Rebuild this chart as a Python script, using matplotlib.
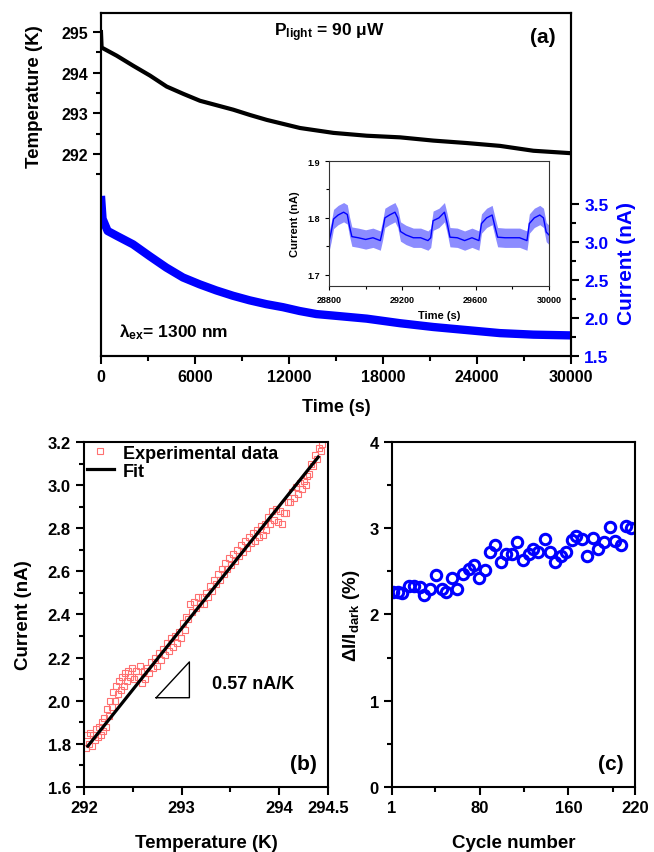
import numpy as np
import matplotlib
matplotlib.use("Agg")
import matplotlib.pyplot as plt
from matplotlib.ticker import MultipleLocator, FixedLocator, FormatStrFormatter

plt.rcParams['font.family'] = ['Liberation Sans', 'DejaVu Sans']
plt.rcParams['font.weight'] = 'bold'
plt.rcParams['axes.labelweight'] = 'bold'
plt.rcParams['mathtext.default'] = 'regular'
plt.rcParams['axes.linewidth'] = 1.5

# ---- panel (a): temperature and current vs time ----
time_temp = [0, 40, 1000, 2064, 3128, 4191, 5255, 6319, 7383, 8447, 9511,
             10574, 11638, 12702, 13766, 14830, 16957, 19085, 21213, 23340,
             25468, 27596, 30000]
temp_a = [295.0, 294.62, 294.42, 294.17, 293.93, 293.66, 293.48, 293.31,
          293.20, 293.09, 292.96, 292.84, 292.74, 292.64, 292.58, 292.52,
          292.45, 292.41, 292.33, 292.27, 292.20, 292.08, 292.02]

time_curr = [0, 100, 426, 1064, 2043, 3106, 4170, 5234, 6298, 7362, 8425,
             9489, 10553, 11617, 12681, 13745, 14830, 16957, 19085, 21213,
             23340, 25468, 27596, 30000]
curr_a = [3.60, 3.30, 3.14, 3.07, 2.965, 2.81, 2.66, 2.53, 2.44, 2.36, 2.29,
          2.23, 2.18, 2.14, 2.09, 2.05, 2.03, 1.99, 1.93, 1.88, 1.84, 1.80,
          1.78, 1.77]

# inset: last few on/off cycles
inset_time = [28800, 28812, 28825, 28850, 28880, 28900, 28912, 28925, 28960,
              29000, 29040, 29080, 29092, 29105, 29130, 29160, 29175, 29190,
              29220, 29260, 29300, 29340, 29355, 29368, 29400, 29430, 29445,
              29460, 29500, 29540, 29580, 29618, 29632, 29660, 29690, 29705,
              29720, 29760, 29800, 29840, 29880, 29893, 29920, 29950, 29970,
              29985, 30000]
inset_curr = [1.758, 1.775, 1.798, 1.805, 1.81, 1.806, 1.785, 1.767, 1.765,
              1.762, 1.765, 1.760, 1.777, 1.80, 1.805, 1.81, 1.80, 1.776,
              1.77, 1.765, 1.765, 1.760, 1.765, 1.795, 1.80, 1.81, 1.79,
              1.766, 1.765, 1.760, 1.765, 1.760, 1.79, 1.80, 1.805, 1.785,
              1.766, 1.765, 1.765, 1.765, 1.760, 1.79, 1.80, 1.805, 1.80,
              1.775, 1.77]

# ---- panel (b): current vs temperature ----
temp_exp = [
    292.02, 292.03, 292.05, 292.06, 292.08, 292.09, 292.11, 292.12, 292.14, 292.15,
    292.17, 292.18, 292.20, 292.21, 292.23, 292.24, 292.26, 292.27, 292.29, 292.30,
    292.32, 292.33, 292.35, 292.36, 292.38, 292.39, 292.41, 292.42, 292.44, 292.45,
    292.47, 292.49, 292.51, 292.53, 292.55, 292.57, 292.59, 292.61, 292.63, 292.65,
    292.67, 292.69, 292.71, 292.73, 292.75, 292.77, 292.79, 292.81, 292.83, 292.85,
    292.87, 292.89, 292.91, 292.93, 292.95, 292.97, 292.99, 293.01, 293.03, 293.05,
    293.07, 293.09, 293.11, 293.13, 293.15, 293.17, 293.19, 293.21, 293.23, 293.25,
    293.27, 293.29, 293.31, 293.33, 293.35, 293.37, 293.39, 293.41, 293.43, 293.45,
    293.47, 293.49, 293.51, 293.53, 293.55, 293.57, 293.59, 293.61, 293.63, 293.65,
    293.67, 293.69, 293.71, 293.73, 293.75, 293.77, 293.79, 293.81, 293.83, 293.85,
    293.87, 293.89, 293.91, 293.93, 293.95, 293.97, 293.99, 294.01, 294.03, 294.05,
    294.07, 294.09, 294.11, 294.13, 294.15, 294.17, 294.19, 294.21, 294.23, 294.25,
    294.27, 294.29, 294.31, 294.33, 294.35, 294.37, 294.39, 294.41, 294.43, 294.44]
curr_exp = [
    1.78, 1.84, 1.80, 1.85, 1.79, 1.84, 1.82, 1.87, 1.83, 1.88,
    1.84, 1.90, 1.86, 1.92, 1.88, 1.96, 1.93, 2.00, 1.97, 2.04,
    2.00, 2.07, 2.03, 2.09, 2.05, 2.11, 2.07, 2.13, 2.09, 2.14,
    2.11, 2.15, 2.10, 2.14, 2.11, 2.16, 2.08, 2.14, 2.10, 2.15,
    2.13, 2.18, 2.15, 2.20, 2.16, 2.22, 2.19, 2.24, 2.21, 2.27,
    2.23, 2.29, 2.25, 2.30, 2.27, 2.32, 2.29, 2.36, 2.33, 2.39,
    2.38, 2.45, 2.41, 2.46, 2.43, 2.48, 2.45, 2.48, 2.45, 2.50,
    2.48, 2.53, 2.51, 2.56, 2.54, 2.59, 2.56, 2.61, 2.59, 2.64,
    2.61, 2.66, 2.63, 2.68, 2.65, 2.70, 2.67, 2.72, 2.69, 2.74,
    2.71, 2.76, 2.73, 2.78, 2.74, 2.79, 2.76, 2.81, 2.77, 2.82,
    2.79, 2.85, 2.82, 2.88, 2.84, 2.89, 2.83, 2.88, 2.82, 2.87,
    2.87, 2.92, 2.92, 2.97, 2.94, 2.99, 2.96, 3.01, 2.98, 3.02,
    3.00, 3.04, 3.05, 3.10, 3.09, 3.14, 3.12, 3.17, 3.16, 3.19]
fit_temp = [292.04, 294.40]
fit_curr = [1.79, 3.13]

# ---- panel (c): relative response vs cycle ----
cycles = [2, 6, 10, 16, 21, 26, 30, 35, 41, 46, 50, 55, 60, 65, 70, 75, 79,
          85, 89, 94, 99, 104, 109, 114, 119, 124, 128, 133, 139, 143, 148,
          153, 158, 163, 167, 172, 177, 182, 187, 192, 197, 202, 207, 212, 216]
response = [2.26, 2.26, 2.25, 2.33, 2.33, 2.32, 2.23, 2.29, 2.46, 2.29, 2.26,
            2.42, 2.29, 2.47, 2.53, 2.57, 2.42, 2.52, 2.72, 2.81, 2.61, 2.70,
            2.70, 2.84, 2.63, 2.70, 2.76, 2.72, 2.87, 2.72, 2.61, 2.68, 2.72,
            2.86, 2.91, 2.87, 2.68, 2.89, 2.76, 2.84, 3.01, 2.85, 2.80, 3.03,
            3.00]

fig = plt.figure(figsize=(6.54, 8.53), dpi=100)


def style_ticks(ax, size=11):
    ax.tick_params(which='both', direction='out', labelsize=size, width=1.5)
    ax.tick_params(which='major', length=6)
    ax.tick_params(which='minor', length=3.5)


# (a)
ax1 = fig.add_axes([0.1544, 0.5815, 0.7187, 0.4021])
ax1.plot(time_temp, temp_a, color='black', lw=3)
ax1.set_xlim(0, 30000)
ax1.set_ylim(287.03, 295.47)
ax1.xaxis.set_major_locator(MultipleLocator(6000))
ax1.xaxis.set_minor_locator(MultipleLocator(3000))
ax1.yaxis.set_major_locator(FixedLocator([292, 293, 294, 295]))
ax1.yaxis.set_minor_locator(FixedLocator([291.5, 292.5, 293.5, 294.5]))
style_ticks(ax1, 11.5)
ax1.set_xlabel('Time (s)', fontsize=13)
ax1.xaxis.set_label_coords(0.5, -0.122)
ax1.set_ylabel('Temperature (K)', fontsize=13.5)
ax1.yaxis.set_label_coords(-0.123, 0.76)

ax2 = ax1.twinx()
ax2.plot(time_curr, curr_a, color='blue', lw=6, solid_capstyle='butt')
ax2.set_ylim(1.5, 6.0)
ax2.yaxis.set_major_locator(FixedLocator([1.5, 2.0, 2.5, 3.0, 3.5]))
ax2.yaxis.set_minor_locator(FixedLocator([1.75, 2.25, 2.75, 3.25]))
style_ticks(ax2, 12.5)
ax2.tick_params(axis='y', labelcolor='blue')
ax2.set_ylabel('Current (nA)', fontsize=15, color='blue')
ax2.yaxis.set_label_coords(1.098, 0.274)

ax1.text(0.487, 0.936, r'P$_{light}$ = 90 μW', transform=ax1.transAxes,
         ha='center', va='baseline', fontsize=12.5)
ax1.text(0.94, 0.915, '(a)', transform=ax1.transAxes, ha='center',
         va='baseline', fontsize=15)
ax1.text(0.038, 0.058, r'λ$_{ex}$= 1300 nm', transform=ax1.transAxes,
         ha='left', va='baseline', fontsize=12.5)

# inset
axi = fig.add_axes([0.503, 0.6635, 0.3364, 0.1465])
lo = [v - 0.017 for v in inset_curr]
hi = [v + 0.017 for v in inset_curr]
axi.fill_between(inset_time, lo, hi, color='blue', alpha=0.45, lw=0)
axi.plot(inset_time, inset_curr, color='blue', lw=1)
axi.set_xlim(28800, 30000)
axi.set_ylim(1.68, 1.9)
axi.xaxis.set_major_locator(MultipleLocator(400))
axi.xaxis.set_minor_locator(MultipleLocator(200))
axi.yaxis.set_major_locator(MultipleLocator(0.1))
axi.yaxis.set_minor_locator(MultipleLocator(0.05))
axi.tick_params(which='both', direction='out', labelsize=6.5, width=0.8)
axi.tick_params(which='major', length=3)
axi.tick_params(which='minor', length=2)
for sp in axi.spines.values():
    sp.set_linewidth(0.8)
    sp.set_color('#333333')
axi.set_xlabel('Time (s)', fontsize=8)
axi.xaxis.set_label_coords(0.5, -0.192)
axi.set_ylabel('Current (nA)', fontsize=8)
axi.yaxis.set_label_coords(-0.132, 0.5)

# (b)
axb = fig.add_axes([0.1284, 0.0762, 0.3731, 0.4045])
axb.plot(temp_exp, curr_exp, ls='none', marker='s', ms=5, mfc='none',
         mec='#ff7070', mew=0.8, label='Experimental data')
axb.plot(fit_temp, fit_curr, color='black', lw=2.3, label='Fit')
axb.plot([292.74, 293.08, 293.08, 292.74], [2.014, 2.014, 2.18, 2.014],
         color='black', lw=1)
axb.text(293.31, 2.08, '0.57 nA/K', fontsize=13, va='center', ha='left')
axb.set_xlim(292, 294.5)
axb.set_ylim(1.6, 3.2)
axb.xaxis.set_major_locator(FixedLocator([292, 293, 294, 294.5]))
axb.xaxis.set_minor_locator(FixedLocator([292.5, 293.5]))
axb.xaxis.set_major_formatter(FormatStrFormatter('%g'))
axb.yaxis.set_major_locator(MultipleLocator(0.2))
axb.yaxis.set_minor_locator(MultipleLocator(0.1))
axb.yaxis.set_major_formatter(FormatStrFormatter('%.1f'))
style_ticks(axb, 12)
axb.set_xlabel('Temperature (K)', fontsize=13.5)
axb.xaxis.set_label_coords(0.5, -0.136)
axb.set_ylabel('Current (nA)', fontsize=13.5)
axb.yaxis.set_label_coords(-0.213, 0.5)
axb.text(0.955, 0.04, '(b)', transform=axb.transAxes, ha='right',
         va='bottom', fontsize=15)
axb.legend(loc='upper left', frameon=False, fontsize=13, handlelength=1.5,
           handletextpad=0.5, borderaxespad=0.05, labelspacing=0.05,
           borderpad=0.1)

# (c)
axc = fig.add_axes([0.5994, 0.0762, 0.3716, 0.4045])
axc.plot(cycles, response, ls='none', marker='o', ms=7.5, mfc='none',
         mec='blue', mew=2.2)
axc.set_xlim(1, 220)
axc.set_ylim(0, 4)
axc.xaxis.set_major_locator(FixedLocator([1, 80, 160, 220]))
axc.xaxis.set_minor_locator(FixedLocator([40, 120, 200]))
axc.yaxis.set_major_locator(MultipleLocator(1))
axc.yaxis.set_minor_locator(MultipleLocator(0.5))
style_ticks(axc, 12)
axc.set_xlabel('Cycle number', fontsize=13.5)
axc.xaxis.set_label_coords(0.5, -0.136)
axc.set_ylabel(r'ΔI/I$_{dark}$ (%)', fontsize=13.5)
axc.yaxis.set_label_coords(-0.123, 0.5)
axc.text(0.955, 0.04, '(c)', transform=axc.transAxes, ha='right',
         va='bottom', fontsize=15)

fig.savefig('out.png', dpi=100)
